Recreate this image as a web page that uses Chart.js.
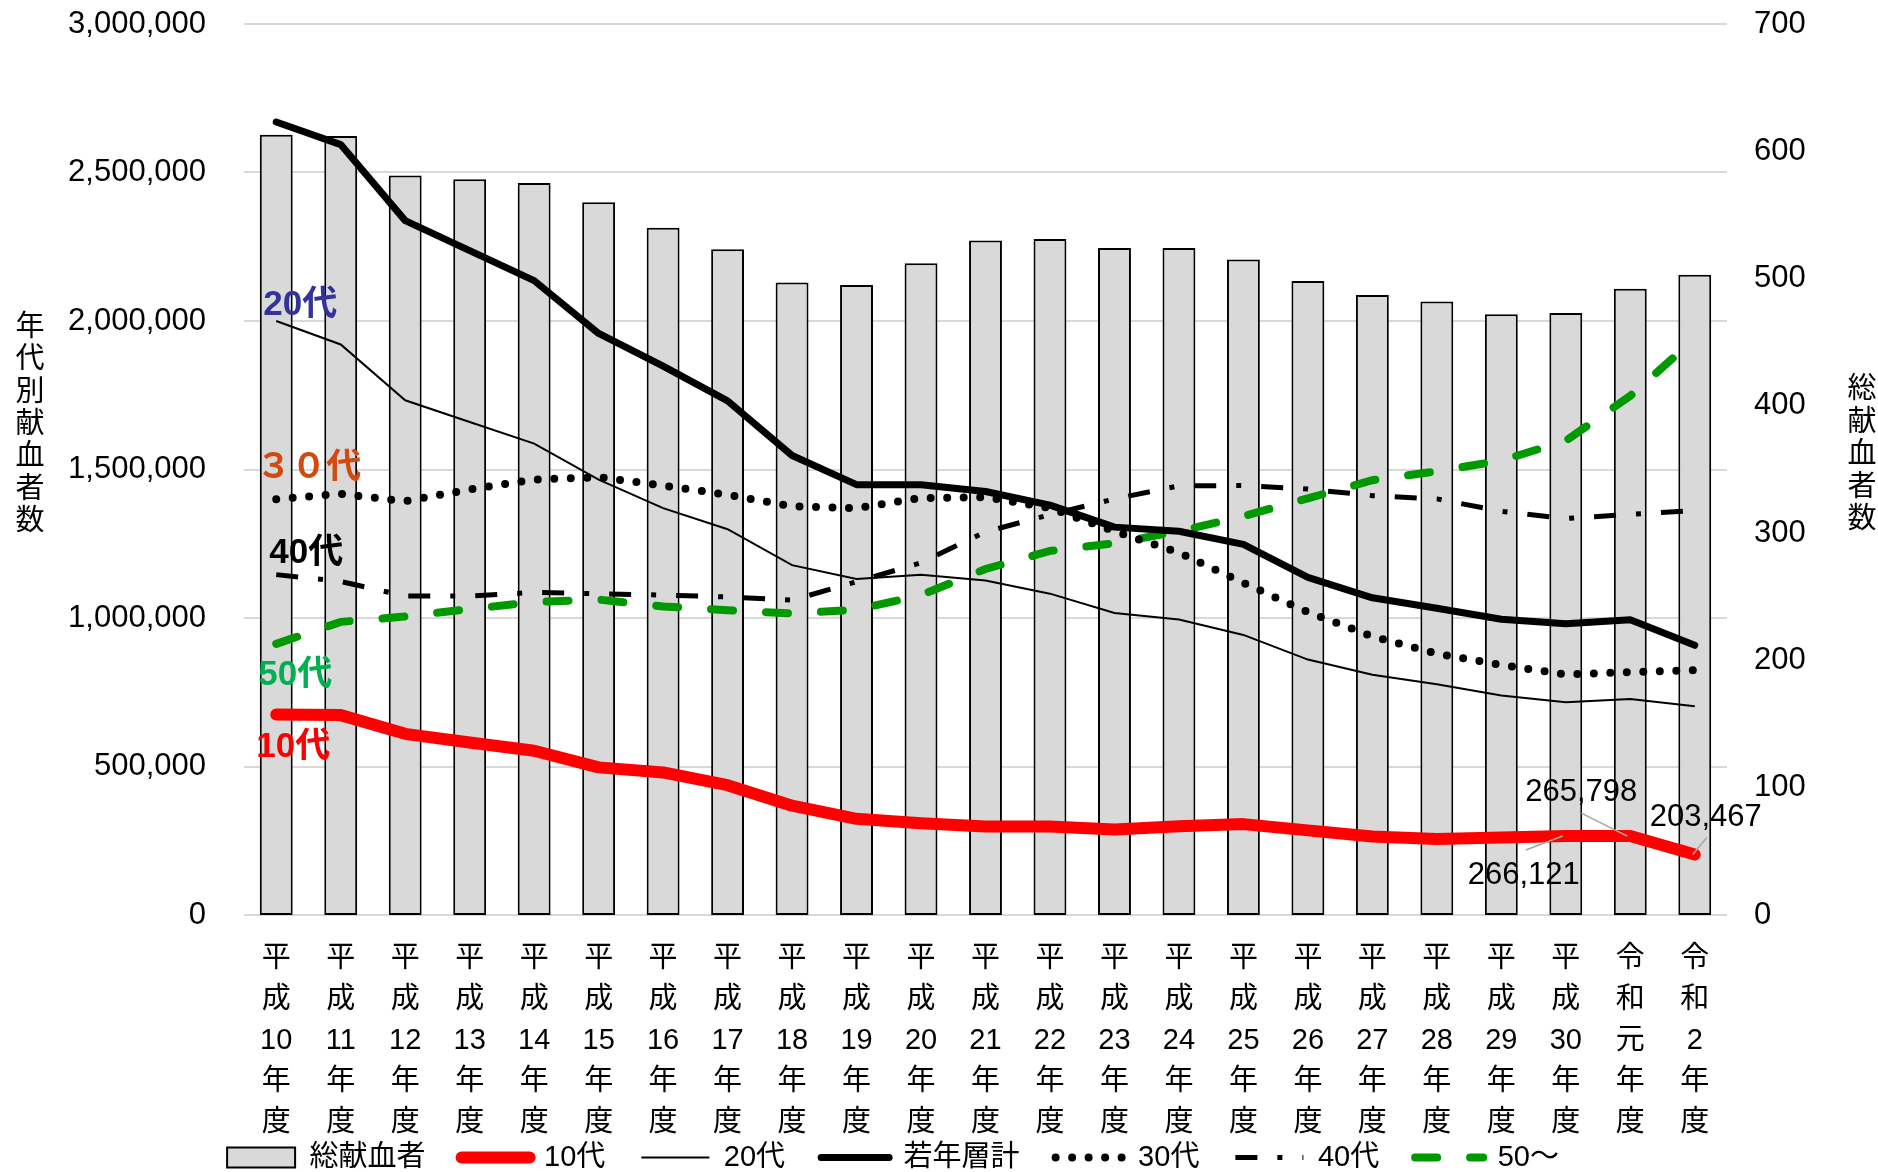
<!DOCTYPE html>
<html>
<head>
<meta charset="utf-8">
<script src="https://cdn.jsdelivr.net/npm/chart.js@4/dist/chart.umd.min.js"></script>
<style>
  body { margin: 0; background: #fff; }
  #wrap { width: 1878px; height: 1172px; }
</style>
</head>
<body>
<div id="wrap"><canvas id="chart"></canvas></div>
<script>
const categories = [
  ['平','成','10','年','度'], ['平','成','11','年','度'], ['平','成','12','年','度'],
  ['平','成','13','年','度'], ['平','成','14','年','度'], ['平','成','15','年','度'],
  ['平','成','16','年','度'], ['平','成','17','年','度'], ['平','成','18','年','度'],
  ['平','成','19','年','度'], ['平','成','20','年','度'], ['平','成','21','年','度'],
  ['平','成','22','年','度'], ['平','成','23','年','度'], ['平','成','24','年','度'],
  ['平','成','25','年','度'], ['平','成','26','年','度'], ['平','成','27','年','度'],
  ['平','成','28','年','度'], ['平','成','29','年','度'], ['平','成','30','年','度'],
  ['令','和','元','年','度'], ['令','和','2','年','度']
];

// 総献血者数 (万人, right axis)
const totalDonors = [613, 612, 581, 578, 575, 560, 540, 523, 497, 495, 512, 530, 531, 524, 524, 515, 498, 487, 482, 472, 473, 492, 503];

// 年代別献血者数 (left axis)
const teens = [675000, 673000, 610000, 581000, 553000, 497000, 480000, 437000, 368000, 324000, 309000, 298000, 298000, 288000, 299000, 306000, 285000, 264000, 256000, 261000, 266121, 265798, 203467];
const twenties = [2000000, 1921000, 1733000, 1660000, 1587000, 1466000, 1370000, 1299000, 1178000, 1131000, 1146000, 1126000, 1082000, 1017000, 995000, 943000, 860000, 809000, 777000, 739000, 716000, 727000, 703000];
const youthTotal = [2670000, 2594000, 2338000, 2237000, 2136000, 1958000, 1848000, 1731000, 1547000, 1449000, 1449000, 1426000, 1380000, 1306000, 1292000, 1248000, 1137000, 1068000, 1033000, 996000, 981000, 994000, 908000];
const thirties = [1400000, 1418000, 1393000, 1433000, 1466000, 1474000, 1446000, 1415000, 1376000, 1370000, 1404000, 1407000, 1370000, 1292000, 1220000, 1118000, 1020000, 938000, 880000, 842000, 810000, 818000, 824000];
const forties = [1146000, 1123000, 1074000, 1074000, 1086000, 1082000, 1077000, 1071000, 1060000, 1122000, 1186000, 1290000, 1348000, 1401000, 1445000, 1446000, 1434000, 1412000, 1401000, 1359000, 1335000, 1349000, 1362000];
const fifties = [913000, 987000, 1005000, 1030000, 1054000, 1062000, 1039000, 1026000, 1015000, 1028000, 1077000, 1165000, 1226000, 1252000, 1292000, 1343000, 1403000, 1464000, 1494000, 1530000, 1597000, 1748000, 1940000];

const leftTicks = { min: 0, max: 3000000, step: 500000 };
const rightTicks = { min: 0, max: 700, step: 100 };

// tags written next to the first point of each age line, placed by value
const seriesTags = [
  { text: '20代', color: '#333399', value: 2052000, dx: -13 },
  { text: '３０代', color: '#D24A0E', value: 1504000, dx: -20 },
  { text: '40代', color: '#000000', value: 1218000, dx: -7 },
  { text: '50代', color: '#00B050', value: 808000, dx: -18 },
  { text: '10代', color: '#FF0000', value: 566000, dx: -20 }
];

// value call-outs on the 10代 line
const callouts = [
  { index: 20, text: '266,121', lx: -42, ly: 39, ax: -40, ay: 14 },
  { index: 21, text: '265,798', lx: -49, ly: -44, ax: -49, ay: -23 },
  { index: 22, text: '203,467', lx: 11, ly: -37, ax: 12, ay: -17 }
];

const FONT = "'Liberation Sans', 'Noto Sans CJK JP', sans-serif";
Chart.defaults.font.family = FONT;
Chart.defaults.color = '#000';

const annotations = {
  id: 'annotations',
  afterDatasetsDraw(chart) {
    const ctx = chart.ctx;
    const y = chart.scales.y;
    const x = chart.scales.x;
    ctx.save();
    // series tags
    ctx.font = 'bold 35px ' + FONT;
    ctx.textAlign = 'left';
    ctx.textBaseline = 'middle';
    seriesTags.forEach(t => {
      ctx.fillStyle = t.color;
      ctx.fillText(t.text, x.getPixelForValue(0) + t.dx, y.getPixelForValue(t.value));
    });
    // call-outs
    const pts = chart.getDatasetMeta(1).data;
    ctx.font = '31px ' + FONT;
    ctx.textAlign = 'center';
    callouts.forEach(c => {
      const p = pts[c.index];
      ctx.strokeStyle = '#A6A6A6';
      ctx.lineWidth = 1.5;
      ctx.beginPath();
      ctx.moveTo(p.x + c.ax, p.y + c.ay);
      ctx.lineTo(p.x + (c.ax > 0 ? -2 : -3), p.y);
      ctx.stroke();
      ctx.fillStyle = '#000';
      ctx.fillText(c.text, p.x + c.lx, p.y + c.ly);
    });
    // axis titles, stacked upright
    ctx.font = '29px ' + FONT;
    ctx.fillStyle = '#000';
    '年代別献血者数'.split('').forEach((ch, i) => ctx.fillText(ch, 30, 328 + i * 32.3));
    '総献血者数'.split('').forEach((ch, i) => ctx.fillText(ch, 1862, 390 + i * 32.5));
    ctx.restore();
  }
};

// the legend sits under the stacked year labels: move it down/left after layout
const legendPlace = {
  id: 'legendPlace',
  afterLayout(chart) {
    const lg = chart.legend;
    lg.top = 1107;
    lg.bottom = chart.height;
    lg.left -= 46;
    lg.right -= 46;
  }
};

new Chart(document.getElementById('chart'), {
  data: {
    labels: categories,
    datasets: [
      {
        type: 'bar', label: '総献血者', data: totalDonors, yAxisID: 'y2',
        backgroundColor: '#D9D9D9', borderColor: '#000', borderWidth: 2, borderSkipped: false,
        barPercentage: 0.51, categoryPercentage: 1, order: 1
      },
      {
        type: 'line', label: '10代', data: teens, yAxisID: 'y',
        borderColor: '#FF0000', backgroundColor: '#FF0000', borderWidth: 12,
        borderCapStyle: 'round', borderJoinStyle: 'round', pointRadius: 0, order: 0
      },
      {
        type: 'line', label: '20代', data: twenties, yAxisID: 'y',
        borderColor: '#000', backgroundColor: '#000', borderWidth: 2, pointRadius: 0, order: 0
      },
      {
        type: 'line', label: '若年層計', data: youthTotal, yAxisID: 'y',
        borderColor: '#000', backgroundColor: '#000', borderWidth: 7,
        borderCapStyle: 'round', borderJoinStyle: 'round', pointRadius: 0, order: 0
      },
      {
        type: 'line', label: '30代', data: thirties, yAxisID: 'y',
        borderColor: '#000', backgroundColor: '#000', borderWidth: 8,
        borderDash: [0, 16.5], borderCapStyle: 'round', pointRadius: 0, order: 0
      },
      {
        type: 'line', label: '40代', data: forties, yAxisID: 'y',
        borderColor: '#000', backgroundColor: '#000', borderWidth: 5,
        borderDash: [22, 20, 5, 20], pointRadius: 0, order: 0
      },
      {
        type: 'line', label: '50～', data: fifties, yAxisID: 'y',
        borderColor: '#009900', backgroundColor: '#009900', borderWidth: 8,
        borderDash: [22, 33], borderCapStyle: 'round', pointRadius: 0, order: 0
      }
    ]
  },
  options: {
    responsive: true,
    maintainAspectRatio: false,
    devicePixelRatio: 1,
    animation: false,
    layout: { autoPadding: false, padding: { top: 24, left: 0, right: 0, bottom: 0 } },
    scales: {
      x: {
        grid: { display: false },
        border: { display: false },
        ticks: {
          autoSkip: false, maxRotation: 0, minRotation: 0, padding: 16,
          font: { size: 29, lineHeight: 1.407 }, color: '#000'
        },
        afterFit: scale => { scale.height = 233; }
      },
      y: {
        position: 'left',
        min: leftTicks.min, max: leftTicks.max,
        grid: { color: '#D9D9D9', lineWidth: 2, drawTicks: false },
        border: { display: false },
        ticks: {
          stepSize: leftTicks.step, padding: 38, font: { size: 31 }, color: '#000',
          callback: v => v.toLocaleString('en-US')
        },
        afterFit: scale => { scale.width = 244; scale.paddingTop = 0; scale.paddingBottom = 0; }
      },
      y2: {
        position: 'right',
        min: rightTicks.min, max: rightTicks.max,
        grid: { display: false, drawTicks: false },
        border: { display: false },
        ticks: { stepSize: rightTicks.step, padding: 27, font: { size: 31 }, color: '#000' },
        afterFit: scale => { scale.width = 151; scale.paddingTop = 0; scale.paddingBottom = 0; }
      }
    },
    plugins: {
      tooltip: { enabled: false },
      legend: {
        position: 'bottom',
        maxHeight: 24,
        labels: {
          usePointStyle: true,
          pointStyleWidth: 68,
          boxHeight: 20,
          padding: 36,
          font: { size: 29 },
          color: '#000',
          sort: (a, b) => a.datasetIndex - b.datasetIndex,
          generateLabels(chart) {
            const items = Chart.defaults.plugins.legend.labels.generateLabels(chart);
            items.forEach(item => {
              const ds = chart.data.datasets[item.datasetIndex];
              item.pointStyle = ds.type === 'bar' ? 'rect' : 'line';
              item.lineWidth = ds.borderWidth;
              item.strokeStyle = ds.borderColor;
              item.fillStyle = ds.backgroundColor;
              item.lineDash = ds.borderDash || [];
              item.lineCap = ds.borderCapStyle || 'butt';
            });
            return items;
          }
        }
      }
    }
  },
  plugins: [annotations, legendPlace]
});
</script>
</body>
</html>
